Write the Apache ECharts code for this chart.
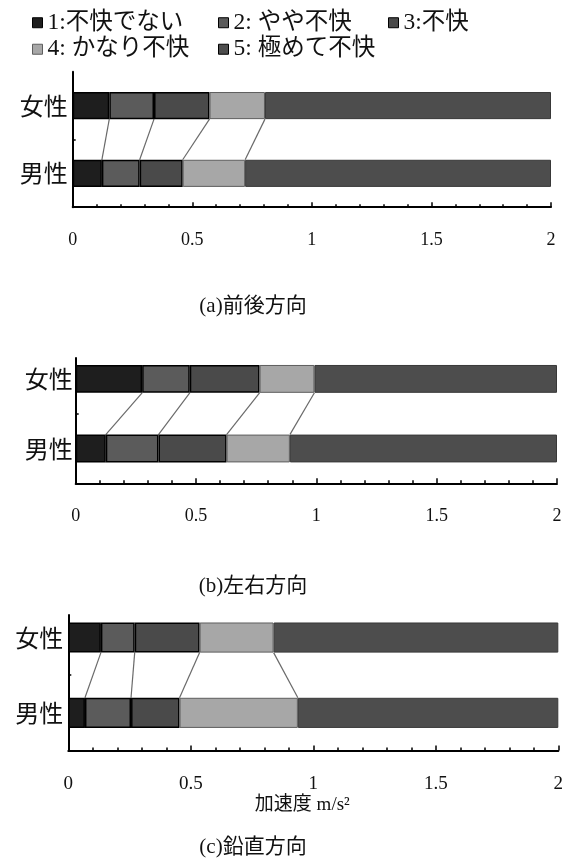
<!DOCTYPE html>
<html>
<head>
<meta charset="utf-8">
<script src="https://cdn.jsdelivr.net/npm/echarts@6/dist/echarts.min.js"></script>
<style>
  html, body { margin: 0; padding: 0; background: #ffffff; }
  #chart { width: 569px; height: 862px; }
</style>
</head>
<body>
<div id="chart"></div>
<script>
// Rows of each panel, listed from the bottom up
const categories = ['男性', '女性'];
// Discomfort rating levels (legend entries)
const levelNames = ['1:不快でない', '2: やや不快', '3:不快', '4: かなり不快', '5: 極めて不快'];
// Acceleration axis ticks (m/s²)
const xTickValues = [0, 0.5, 1, 1.5, 2];
// Upper acceleration bound (m/s²) of levels 1–4; level 5 runs to the end of the scale
const frontBackFemale = [0.153, 0.340, 0.572, 0.804];
const frontBackMale   = [0.122, 0.280, 0.460, 0.721];
const lateralFemale   = [0.276, 0.474, 0.764, 0.992];
const lateralMale     = [0.125, 0.344, 0.627, 0.890];
const verticalFemale  = [0.133, 0.271, 0.536, 0.838];
const verticalMale    = [0.068, 0.256, 0.454, 0.937];
const panelTitles = ['(a)前後方向', '(b)左右方向', '(c)鉛直方向'];
const axisName = '加速度 m/s²';

const levelColors = ['#1e1e1e', '#5b5b5b', '#4a4a4a', '#a7a7a7', '#4d4d4d'];
const levelBorders = ['#000000', '#000000', '#000000', '#5e5e5e', '#383838'];
const levelBorderWidths = [1.5, 1.5, 1.5, 1, 1];

const SERIF_CJK = "'Liberation Serif', 'Noto Sans CJK JP', serif";
const CJK = "'Noto Sans CJK JP', 'Noto Sans CJK SC', sans-serif";
const BAR_FRACTION = 0.4;

// Page layout of each panel (pixels): band area, plot width and where the vertical axis line starts
const panels = [
  { female: frontBackFemale, male: frontBackMale, left: 72.7, right: 551,   top: 71.7,  bottom: 207.2, axisTop: 71.7,  tickFont: 18, labelMargin: 5, titleTop: 291 },
  { female: lateralFemale,   male: lateralMale,   left: 75.7, right: 557,   top: 344.1, bottom: 483.3, axisTop: 358,   tickFont: 18, labelMargin: 3, titleTop: 571 },
  { female: verticalFemale,  male: verticalMale,  left: 68.3, right: 558.3, top: 599.9, bottom: 750.5, axisTop: 615,   tickFont: 19, labelMargin: 5, titleTop: 832 }
];

const xMin = xTickValues[0];
const xMax = xTickValues[xTickValues.length - 1];
const xInterval = xTickValues[1] - xTickValues[0];

function segments(bounds) {
  const out = [];
  let prev = xMin;
  bounds.forEach(b => { out.push(b - prev); prev = b; });
  out.push(xMax - prev);
  return out;
}

const grid = [], xAxis = [], yAxis = [], series = [], title = [];

panels.forEach((p, k) => {
  const width = p.right - p.left;
  const bandGrid = grid.length;
  grid.push({ left: p.left, top: p.top, width: width, height: p.bottom - p.top, containLabel: false });
  const lineGrid = grid.length;
  grid.push({ left: p.left, top: p.axisTop, width: width, height: p.bottom - p.axisTop, containLabel: false });

  const isLast = k === panels.length - 1;
  const bandX = xAxis.length;
  xAxis.push({
    type: 'value', gridIndex: bandGrid, min: xMin, max: xMax, interval: xInterval,
    axisLine: { show: true, lineStyle: { color: '#000', width: 2 } },
    axisTick: { show: true, inside: true, length: 5, lineStyle: { color: '#000', width: 1.5 } },
    minorTick: { show: true, splitNumber: 5, length: 3, lineStyle: { color: '#000', width: 1.5 } },
    splitLine: { show: false },
    minorSplitLine: { show: false },
    axisLabel: { margin: 24, fontFamily: SERIF_CJK, fontSize: p.tickFont, color: '#111' },
    name: isLast ? axisName : '',
    nameLocation: 'middle',
    nameGap: 45,
    nameTextStyle: { fontFamily: SERIF_CJK, fontSize: 19, color: '#111', padding: [0, 22, 0, 0] }
  });
  const lineX = xAxis.length;
  xAxis.push({ type: 'value', gridIndex: lineGrid, min: xMin, max: xMax, show: false });

  const bandY = yAxis.length;
  yAxis.push({
    type: 'category', gridIndex: bandGrid, data: categories,
    axisLine: { show: false }, axisTick: { show: false },
    axisLabel: { margin: p.labelMargin, fontFamily: CJK, fontSize: 24, color: '#111' }
  });
  // value axis in band units (one unit per row) that carries the vertical axis line
  const lineYMax = categories.length * (p.bottom - p.axisTop) / (p.bottom - p.top);
  const lineY = yAxis.length;
  yAxis.push({
    type: 'value', gridIndex: lineGrid, min: 0, max: lineYMax, position: 'left',
    axisLine: { show: true, onZero: false, lineStyle: { color: '#000', width: 2 } },
    axisTick: { show: true, inside: true, length: 3, customValues: [1], lineStyle: { color: '#000', width: 1.5 } },
    axisLabel: { show: false }, splitLine: { show: false }
  });

  const femaleSeg = segments(p.female);
  const maleSeg = segments(p.male);
  levelNames.forEach((name, i) => {
    series.push({
      name: name, type: 'bar', stack: 'panel' + k,
      xAxisIndex: bandX, yAxisIndex: bandY,
      barWidth: (BAR_FRACTION * 100) + '%',
      data: [maleSeg[i], femaleSeg[i]],
      itemStyle: { color: levelColors[i], borderColor: levelBorders[i], borderWidth: levelBorderWidths[i] },
      emphasis: { disabled: true },
      z: 2
    });
  });

  // connectors from each female bound (bottom edge of the upper bar) to the male bound (top edge of the lower bar)
  const femaleEdge = 1.5 - BAR_FRACTION / 2;
  const maleEdge = 0.5 + BAR_FRACTION / 2;
  p.female.forEach((fb, i) => {
    series.push({
      type: 'line', xAxisIndex: lineX, yAxisIndex: lineY,
      data: [[fb, femaleEdge], [p.male[i], maleEdge]],
      symbol: 'none', silent: true,
      lineStyle: { color: '#6a6a6a', width: 1.2 },
      z: 1
    });
  });

  title.push({
    text: panelTitles[k], left: 248, top: p.titleTop, textAlign: 'center',
    textStyle: { fontFamily: SERIF_CJK, fontSize: 21, fontWeight: 'normal', color: '#111' }
  });
});

const legendBase = {
  orient: 'vertical', top: 6, itemWidth: 10, itemHeight: 10, itemGap: 3,
  icon: 'rect', selectedMode: false,
  itemStyle: { borderColor: '#000', borderWidth: 1 },
  textStyle: { fontFamily: SERIF_CJK, fontSize: 23.5, lineHeight: 23, color: '#111', padding: [0, 0, 0, 0] }
};
function legendItem(i) {
  return { name: levelNames[i], itemStyle: { borderColor: i === 3 ? '#5e5e5e' : '#000' } };
}
const legend = [
  Object.assign({}, legendBase, { left: 27, data: [legendItem(0), legendItem(3)] }),
  Object.assign({}, legendBase, { left: 213, data: [legendItem(1), legendItem(4)] }),
  Object.assign({}, legendBase, { left: 383, data: [legendItem(2)] })
];

const chart = echarts.init(document.getElementById('chart'), null, { renderer: 'canvas' });
chart.setOption({
  backgroundColor: '#ffffff',
  animation: false,
  title: title,
  legend: legend,
  grid: grid,
  xAxis: xAxis,
  yAxis: yAxis,
  series: series
});
</script>
</body>
</html>
